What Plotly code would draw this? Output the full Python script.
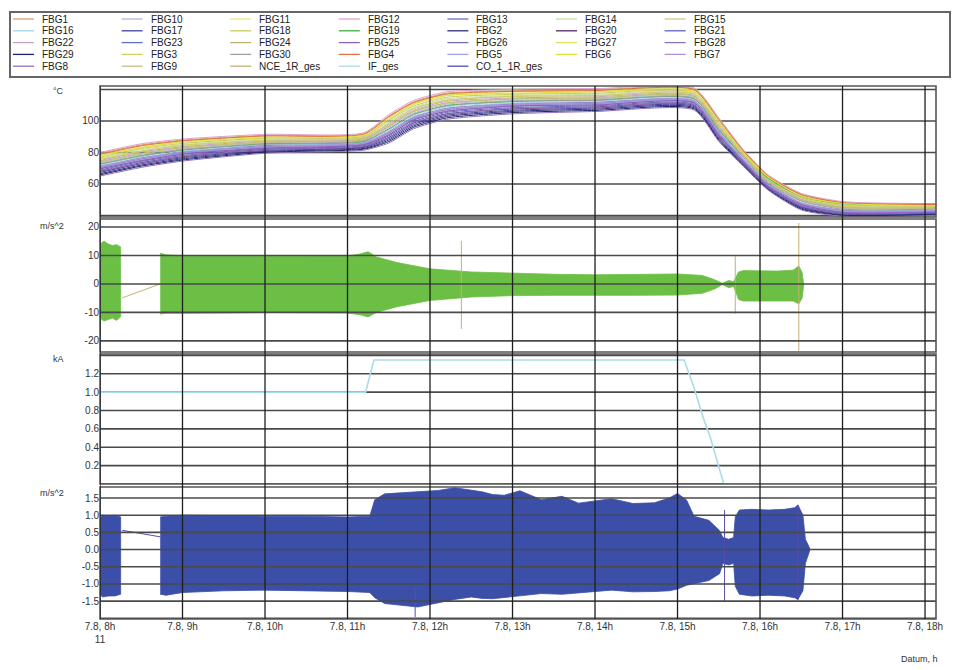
import plotly.graph_objects as go

# ---------------- data ----------------
# time axis in hours of day 7.8 (panel 1 sample times)
T_TEMP = [8.0, 8.5, 9.0, 10.0, 11.2, 11.5, 11.8, 12.2, 13.0, 14.0, 15.2, 15.5, 15.8, 16.1, 16.5, 17.0, 18.13]

FBG1 = [79.3, 84.8, 87.8, 90.9, 92.0, 103.1, 112.1, 117.6, 119.2, 119.8, 120.3, 101.3, 81.1, 65.2, 53.5, 48.3, 47.1]
FBG2 = [66.5, 72.0, 75.9, 80.7, 82.6, 87.8, 96.8, 102.8, 106.1, 107.5, 108.4, 88.5, 72.1, 57.0, 44.6, 40.4, 40.8]
FBG3 = [75.8, 80.7, 84.6, 87.6, 89.5, 98.3, 107.9, 113.0, 115.7, 115.9, 117.1, 97.2, 78.7, 62.5, 51.2, 45.8, 45.5]
FBG4 = [78.8, 84.3, 87.4, 90.5, 91.6, 102.6, 111.6, 117.1, 118.8, 119.3, 119.9, 100.8, 80.8, 64.9, 53.2, 48.1, 46.9]
FBG5 = [71.3, 76.2, 80.4, 84.0, 86.2, 92.9, 102.5, 107.7, 111.0, 111.5, 112.9, 92.7, 75.5, 59.6, 48.0, 43.0, 43.2]
FBG6 = [78.1, 83.0, 86.7, 89.4, 91.1, 101.0, 110.6, 116.2, 117.4, 118.6, 118.6, 100.1, 79.7, 64.5, 52.1, 47.6, 46.2]
FBG7 = [70.6, 75.5, 79.7, 83.4, 85.7, 92.0, 101.6, 106.8, 110.2, 110.8, 112.2, 92.0, 75.0, 59.1, 47.5, 42.6, 42.8]
FBG8 = [65.0, 70.5, 74.5, 79.5, 81.5, 86.0, 95.0, 101.0, 104.5, 106.0, 107.0, 87.0, 71.0, 56.0, 43.5, 39.5, 40.0]
FBG9 = [74.3, 79.2, 83.2, 86.4, 88.4, 96.5, 106.1, 111.2, 114.1, 114.4, 115.7, 95.7, 77.7, 61.5, 50.1, 44.9, 44.7]
FBG10 = [73.3, 78.8, 82.2, 86.1, 87.6, 95.9, 104.9, 110.6, 113.0, 114.0, 114.7, 95.3, 76.8, 61.3, 49.3, 44.6, 44.1]
FBG11 = [77.8, 83.3, 86.4, 89.7, 90.9, 101.3, 110.3, 115.9, 117.7, 118.3, 118.9, 99.8, 80.0, 64.2, 52.4, 47.4, 46.4]
FBG12 = [80.0, 85.5, 88.5, 91.5, 92.5, 104.0, 113.0, 118.5, 120.0, 120.5, 121.0, 102.0, 81.6, 65.7, 54.0, 48.8, 47.5]
FBG13 = [69.5, 75.0, 78.7, 83.1, 84.8, 91.4, 100.4, 106.3, 109.2, 110.4, 111.2, 91.5, 74.2, 58.9, 46.7, 42.3, 42.3]
FBG14 = [76.3, 81.8, 85.0, 88.5, 89.8, 99.5, 108.5, 114.1, 116.1, 116.9, 117.5, 98.3, 79.0, 63.3, 51.4, 46.5, 45.6]
FBG15 = [75.5, 81.0, 84.3, 87.9, 89.2, 98.6, 107.6, 113.3, 115.4, 116.2, 116.8, 97.5, 78.4, 62.8, 50.9, 46.0, 45.3]
FBG16 = [71.8, 77.3, 80.8, 84.9, 86.5, 94.1, 103.1, 108.9, 111.5, 112.5, 113.3, 93.8, 75.8, 60.4, 48.2, 43.7, 43.4]
FBG17 = [67.3, 72.8, 76.6, 81.3, 83.2, 88.7, 97.7, 103.6, 106.8, 108.2, 109.1, 89.3, 72.6, 57.5, 45.1, 40.9, 41.1]
FBG18 = [77.0, 82.5, 85.7, 89.1, 90.3, 100.4, 109.4, 115.0, 116.9, 117.6, 118.2, 99.0, 79.5, 63.8, 51.9, 46.9, 46.0]
FBG19 = [72.5, 78.0, 81.5, 85.5, 87.0, 95.0, 104.0, 109.8, 112.3, 113.3, 114.0, 94.5, 77.5, 63.5, 52.0, 47.5, 47.2]
FBG20 = [68.0, 73.5, 77.3, 81.9, 83.7, 89.6, 98.6, 104.5, 107.6, 108.9, 109.8, 90.0, 73.1, 57.9, 45.6, 41.4, 41.5]
FBG21 = [68.8, 74.3, 78.0, 82.5, 84.3, 90.5, 99.5, 105.4, 108.4, 109.6, 110.5, 90.8, 73.7, 58.4, 46.1, 41.8, 41.9]
FBG22 = [74.8, 80.3, 83.6, 87.3, 88.7, 97.7, 106.7, 112.4, 114.6, 115.4, 116.1, 96.8, 77.9, 62.3, 50.3, 45.5, 44.9]
FBG23 = [70.3, 75.8, 79.4, 83.7, 85.4, 92.3, 101.3, 107.1, 109.9, 111.1, 111.9, 92.3, 74.7, 59.4, 47.2, 42.8, 42.6]
FBG24 = [74.0, 79.5, 82.9, 86.7, 88.1, 96.8, 105.8, 111.5, 113.8, 114.7, 115.4, 96.0, 77.4, 61.8, 49.8, 45.1, 44.5]
FBG25 = [69.8, 74.7, 79.0, 82.8, 85.1, 91.1, 100.7, 106.0, 109.5, 110.1, 111.5, 91.2, 74.5, 58.6, 47.0, 42.1, 42.5]
FBG26 = [71.0, 76.5, 80.1, 84.3, 85.9, 93.2, 102.2, 108.0, 110.7, 111.8, 112.6, 93.0, 75.2, 59.9, 47.7, 43.2, 43.0]
FBG27 = [78.5, 84.0, 87.1, 90.3, 91.4, 102.2, 111.2, 116.8, 118.5, 119.1, 119.6, 100.5, 80.5, 64.7, 53.0, 47.9, 46.8]
FBG28 = [68.3, 73.2, 77.6, 81.6, 84.0, 89.3, 98.9, 104.2, 107.9, 108.6, 110.1, 89.7, 73.4, 57.6, 45.9, 41.2, 41.7]
FBG29 = [65.8, 71.3, 75.2, 80.1, 82.1, 86.9, 95.9, 101.9, 105.3, 106.7, 107.7, 87.8, 71.5, 56.5, 44.0, 40.0, 40.4]
FBG30 = [72.8, 77.7, 81.8, 85.2, 87.3, 94.7, 104.3, 109.5, 112.6, 113.0, 114.3, 94.2, 76.6, 60.6, 49.1, 44.0, 44.0]

# panel 2 (NCE_1R_ges, m/s^2): envelope of the dense vibration signal, None = gap
NCE_T = [8.00, 8.02, 8.05, 8.10, 8.15, 8.20, 8.25, None,
         8.73, 8.80, 9.0, 9.5, 10.0, 10.5, 11.0, 11.15, 11.25, 11.35, 11.6, 12.0, 12.5, 13.0,
         13.5, 14.0, 14.5, 15.0, 15.3, 15.45, 15.53, 15.55, 15.62, 15.68, 15.70, 15.74, 15.8,
         16.0, 16.2, 16.4, 16.47, 16.51, 16.53]
NCE_HI = [12.0, 14.5, 15.0, 14.0, 13.5, 13.8, 13.0, None,
          10.8, 10.2, 9.9, 9.8, 9.7, 9.8, 9.8, 10.5, 11.3, 9.5, 7.5, 5.3, 4.2, 3.7,
          3.4, 3.2, 3.4, 3.5, 3.0, 1.5, 0.4, 0.3, 1.2, 0.8, 2.0, 4.2, 4.7,
          4.5, 4.5, 4.8, 6.3, 4.0, 0.3]
NCE_LO = [-11.0, -12.5, -13.0, -12.5, -12.0, -12.8, -11.5, None,
          -10.6, -10.3, -10.2, -10.2, -10.0, -10.1, -10.2, -10.8, -11.6, -10.0, -8.0, -5.8, -4.6, -4.1,
          -4.0, -3.9, -4.0, -3.9, -3.3, -1.8, -0.5, -0.3, -1.3, -0.9, -2.0, -5.5, -6.0,
          -6.0, -6.0, -6.0, -7.0, -5.0, -0.3]
NCE_LINE_T = [8.27, 8.73, None, 12.38, 12.38, None, 15.70, 15.70, None, 16.47, 16.47]
NCE_LINE_V = [-4.9, 0.0, None, 15.1, -15.8, None, 9.7, -10.5, None, 21.4, -23.5]

# panel 3 (IF_ges, kA)
IF_T = [8.0, 11.22, 11.32, 15.08, 15.2, 15.3, 15.4, 15.5, 15.56, 18.13]
IF_V = [1.0, 1.0, 1.35, 1.35, 1.05, 0.75, 0.5, 0.2, 0.0, 0.0]

# panel 4 (CO_1_1R_ges, m/s^2): envelope of the dense vibration signal, None = gap
CO_T = [8.00, 8.03, 8.10, 8.18, 8.25, None,
        8.73, 8.80, 9.0, 9.5, 10.0, 10.5, 11.0, 11.27, 11.33, 11.45, 11.65, 11.85, 12.1, 12.3,
        12.5, 12.63, 12.76, 12.9, 13.09, 13.35, 13.6, 13.8, 14.2, 14.46, 14.72, 14.9, 15.0,
        15.11, 15.2, 15.38, 15.51, 15.55, 15.62, 15.68, 15.70, 15.75, 15.9, 16.1, 16.3, 16.42,
        16.46, 16.52, 16.55, 16.6]
CO_HI = [0.90, 1.00, 0.98, 1.00, 0.95, None,
         0.95, 0.97, 1.00, 0.98, 0.97, 0.97, 0.95, 0.97, 1.45, 1.62, 1.65, 1.68, 1.72, 1.80,
         1.72, 1.68, 1.60, 1.58, 1.71, 1.45, 1.55, 1.35, 1.48, 1.34, 1.36, 1.50, 1.63,
         1.44, 0.97, 0.85, 0.55, 0.35, 0.30, 0.35, 0.95, 1.15, 1.17, 1.15, 1.17, 1.22,
         1.30, 1.00, 0.30, 0.05]
CO_LO = [-1.30, -1.38, -1.35, -1.35, -1.30, None,
         -1.30, -1.33, -1.25, -1.20, -1.18, -1.20, -1.22, -1.25, -1.40, -1.57, -1.62, -1.67, -1.55, -1.45,
         -1.38, -1.42, -1.43, -1.38, -1.35, -1.28, -1.30, -1.25, -1.18, -1.23, -1.22, -1.20, -1.15,
         -1.04, -1.00, -0.90, -0.70, -0.40, -0.45, -0.40, -1.07, -1.30, -1.35, -1.33, -1.35, -1.40,
         -1.45, -1.20, -0.40, -0.05]
CO_LINE_T = [8.27, 8.73, None, 11.82, 11.82, None, 15.57, 15.57, None, 16.46, 16.46]
CO_LINE_V = [0.56, 0.37, None, -1.1, -1.96, None, 1.15, -1.52, None, 1.3, -1.48]

# legend (row-major order as in the reference)
LEGEND_NAMES = ["FBG1", "FBG10", "FBG11", "FBG12", "FBG13", "FBG14", "FBG15",
                "FBG16", "FBG17", "FBG18", "FBG19", "FBG2", "FBG20", "FBG21",
                "FBG22", "FBG23", "FBG24", "FBG25", "FBG26", "FBG27", "FBG28",
                "FBG29", "FBG3", "FBG30", "FBG4", "FBG5", "FBG6", "FBG7",
                "FBG8", "FBG9", "NCE_1R_ges", "IF_ges", "CO_1_1R_ges"]

# axis ticks
X_TICKS = [8, 9, 10, 11, 12, 13, 14, 15, 16, 17, 18]
X_TICK_LABELS = ["7.8, 8h<br>11", "7.8, 9h", "7.8, 10h", "7.8, 11h", "7.8, 12h", "7.8, 13h",
                 "7.8, 14h", "7.8, 15h", "7.8, 16h", "7.8, 17h", "7.8, 18h"]
Y1_TICKS = [40, 60, 80, 100, 120]
Y1_LABELS = ["", "60", "80", "100", ""]
Y2_TICKS = [-20, -10, 0, 10, 20]
Y2_LABELS = ["-20", "-10", "0", "10", "20"]
Y3_TICKS = [0, 0.2, 0.4, 0.6, 0.8, 1.0, 1.2, 1.4]
Y3_LABELS = ["", "0.2", "0.4", "0.6", "0.8", "1.0", "1.2", ""]
Y4_TICKS = [-2.0, -1.5, -1.0, -0.5, 0.0, 0.5, 1.0, 1.5]
Y4_LABELS = ["", "-1.5", "-1.0", "-0.5", "0.0", "0.5", "1.0", "1.5"]

# ---------------- styles ----------------
COLORS = {
    "FBG1": "#d9a074", "FBG10": "#b4b4d8", "FBG11": "#e6e68c", "FBG12": "#e0a0cc",
    "FBG13": "#6e6ec0", "FBG14": "#c8e0a0", "FBG15": "#c8c88c", "FBG16": "#a0d8e8",
    "FBG17": "#4040a0", "FBG18": "#c8c860", "FBG19": "#3cb03c", "FBG2": "#30307c",
    "FBG20": "#502860", "FBG21": "#6060c0", "FBG22": "#c8a0c0", "FBG23": "#6070c8",
    "FBG24": "#c0b070", "FBG25": "#9060c0", "FBG26": "#7070b0", "FBG27": "#e0e060",
    "FBG28": "#9070c0", "FBG29": "#202070", "FBG3": "#d0d060", "FBG30": "#a0a0a0",
    "FBG4": "#e07040", "FBG5": "#a0a0e0", "FBG6": "#e0e040", "FBG7": "#b090d0",
    "FBG8": "#9070c0", "FBG9": "#c0c080", "NCE_1R_ges": "#c8b070", "IF_ges": "#a8dcea",
    "CO_1_1R_ges": "#5050b0",
}
FONT = "Arial, 'Liberation Sans', sans-serif"
GREEN = "#6cbf45"
BLUE = "#3b4ea8"

SERIES = {
    "FBG1": FBG1, "FBG2": FBG2, "FBG3": FBG3, "FBG4": FBG4, "FBG5": FBG5, "FBG6": FBG6,
    "FBG7": FBG7, "FBG8": FBG8, "FBG9": FBG9, "FBG10": FBG10, "FBG11": FBG11, "FBG12": FBG12,
    "FBG13": FBG13, "FBG14": FBG14, "FBG15": FBG15, "FBG16": FBG16, "FBG17": FBG17,
    "FBG18": FBG18, "FBG19": FBG19, "FBG20": FBG20, "FBG21": FBG21, "FBG22": FBG22,
    "FBG23": FBG23, "FBG24": FBG24, "FBG25": FBG25, "FBG26": FBG26, "FBG27": FBG27,
    "FBG28": FBG28, "FBG29": FBG29, "FBG30": FBG30,
}


def band_polygon(t, hi, lo):
    """closed outline (per gap-separated segment) of an envelope band"""
    xs, ys = [], []
    seg = []
    for i in range(len(t) + 1):
        if i == len(t) or t[i] is None:
            if seg:
                xs += [t[j] for j in seg] + [t[j] for j in reversed(seg)] + [None]
                ys += [hi[j] for j in seg] + [lo[j] for j in reversed(seg)] + [None]
            seg = []
        else:
            seg.append(i)
    return xs, ys


fig = go.Figure()

# panel 1: temperatures
for name in LEGEND_NAMES:
    if name in SERIES:
        fig.add_trace(go.Scatter(x=T_TEMP, y=SERIES[name], name=name, mode="lines",
                                 line=dict(color=COLORS[name], width=1, shape="spline", smoothing=0.6),
                                 xaxis="x", yaxis="y", showlegend=False))

# panel 2
bx, by = band_polygon(NCE_T, NCE_HI, NCE_LO)
fig.add_trace(go.Scatter(x=bx, y=by, name="NCE_1R_ges", mode="lines", fill="toself",
                         fillcolor=GREEN, line=dict(color=GREEN, width=0.8),
                         xaxis="x", yaxis="y2", showlegend=False))
fig.add_trace(go.Scatter(x=NCE_LINE_T, y=NCE_LINE_V, name="NCE_1R_ges", mode="lines",
                         line=dict(color=COLORS["NCE_1R_ges"], width=1),
                         xaxis="x", yaxis="y2", showlegend=False))

# panel 3
fig.add_trace(go.Scatter(x=IF_T, y=IF_V, name="IF_ges", mode="lines",
                         line=dict(color=COLORS["IF_ges"], width=1.6),
                         xaxis="x", yaxis="y3", showlegend=False))

# panel 4
bx, by = band_polygon(CO_T, CO_HI, CO_LO)
fig.add_trace(go.Scatter(x=bx, y=by, name="CO_1_1R_ges", mode="lines", fill="toself",
                         fillcolor=BLUE, line=dict(color=BLUE, width=0.8),
                         xaxis="x", yaxis="y4", showlegend=False))
fig.add_trace(go.Scatter(x=CO_LINE_T, y=CO_LINE_V, name="CO_1_1R_ges", mode="lines",
                         line=dict(color="#5a4ea8", width=1),
                         xaxis="x", yaxis="y4", showlegend=False))

# ---------------- layout ----------------
W, H = 957, 670
ML, MR, MT, MB = 100, 21, 86, 51
PW, PH = W - ML - MR, H - MT - MB


def px_x(px):
    return (px - ML) / PW


def px_y(py):
    return (H - MB - py) / PH


shapes = []
annotations = []

# horizontal gridlines: below the thin lines (panels 1, 3), above the dense signals (panels 2, 4)
for ax, ticks, layer in (("y", Y1_TICKS, "below"), ("y2", Y2_TICKS, "above"),
                         ("y3", Y3_TICKS, "below"), ("y4", Y4_TICKS, "above")):
    for v in ticks:
        shapes.append(dict(type="line", xref="paper", yref=ax, x0=0, x1=1, y0=v, y1=v,
                           line=dict(color="#4a4a4a", width=1.6), layer=layer))
for ax in ("y", "y2", "y3", "y4"):
    shapes.append(dict(type="rect", xref="paper", yref=ax + " domain", x0=0, x1=1, y0=0, y1=1,
                       line=dict(color="#555555", width=1.6), layer="above"))
for h in X_TICKS:
    shapes.append(dict(type="line", xref="x", yref="paper", x0=h, x1=h, y0=0, y1=1,
                       line=dict(color="#1e1e1e", width=1.3), layer="above"))

# legend box and entries (row-major, 7 columns)
shapes.append(dict(type="rect", xref="paper", yref="paper",
                   x0=px_x(10), x1=px_x(950), y0=px_y(77), y1=px_y(12),
                   line=dict(color="#666666", width=2), layer="above"))
for i, name in enumerate(LEGEND_NAMES):
    col, row = i % 7, i // 7
    tx = 40 + 108.6 * col
    ty = 19 + 11.8 * row
    shapes.append(dict(type="line", xref="paper", yref="paper",
                       x0=px_x(tx - 27), x1=px_x(tx - 6), y0=px_y(ty), y1=px_y(ty),
                       line=dict(color=COLORS[name], width=1.3), layer="above"))
    annotations.append(dict(text=name, xref="paper", yref="paper", x=px_x(tx), y=px_y(ty),
                            xanchor="left", yanchor="middle", showarrow=False,
                            font=dict(family=FONT, size=10, color="#222222")))

# unit labels
for txt, py in (("°C", 91), ("m/s^2", 226), ("kA", 359), ("m/s^2", 493)):
    annotations.append(dict(text=txt, xref="paper", yref="paper", x=px_x(66), y=px_y(py),
                            xanchor="right", yanchor="middle", showarrow=False,
                            font=dict(family=FONT, size=9, color="#333333")))
annotations.append(dict(text="Datum, h", xref="paper", yref="paper", x=px_x(940), y=px_y(659),
                        xanchor="right", yanchor="middle", showarrow=False,
                        font=dict(family=FONT, size=9, color="#333333")))

yax_common = dict(showgrid=False, zeroline=False, showline=False, ticks="",
                  tickfont=dict(family=FONT, size=10, color="#333333"), anchor="x")

fig.update_layout(
    width=W, height=H,
    margin=dict(l=ML, r=MR, t=MT, b=MB, pad=0),
    paper_bgcolor="white", plot_bgcolor="white",
    showlegend=False,
    font=dict(family=FONT, size=10, color="#333333"),
    xaxis=dict(range=[8, 18.133], tickvals=X_TICKS, ticktext=X_TICK_LABELS, showgrid=False,
               zeroline=False, showline=False, ticks="", anchor="y4",
               tickfont=dict(family=FONT, size=10, color="#333333")),
    yaxis=dict(domain=[px_y(217), 1.0], range=[39.0, 122.2], tickvals=Y1_TICKS,
               ticktext=Y1_LABELS, **yax_common),
    yaxis2=dict(domain=[px_y(352), px_y(219)], range=[-23.9, 22.8], tickvals=Y2_TICKS,
                ticktext=Y2_LABELS, **yax_common),
    yaxis3=dict(domain=[px_y(484), px_y(354)], range=[0.0, 1.415], tickvals=Y3_TICKS,
                ticktext=Y3_LABELS, **yax_common),
    yaxis4=dict(domain=[0.0, px_y(487)], range=[-2.02, 1.82], tickvals=Y4_TICKS,
                ticktext=Y4_LABELS, **yax_common),
    shapes=shapes,
    annotations=annotations,
)

fig.write_html(
    "out.html",
    config={"displayModeBar": False},
    post_script="document.body.style.margin='0';document.body.style.overflow='hidden';",
)
